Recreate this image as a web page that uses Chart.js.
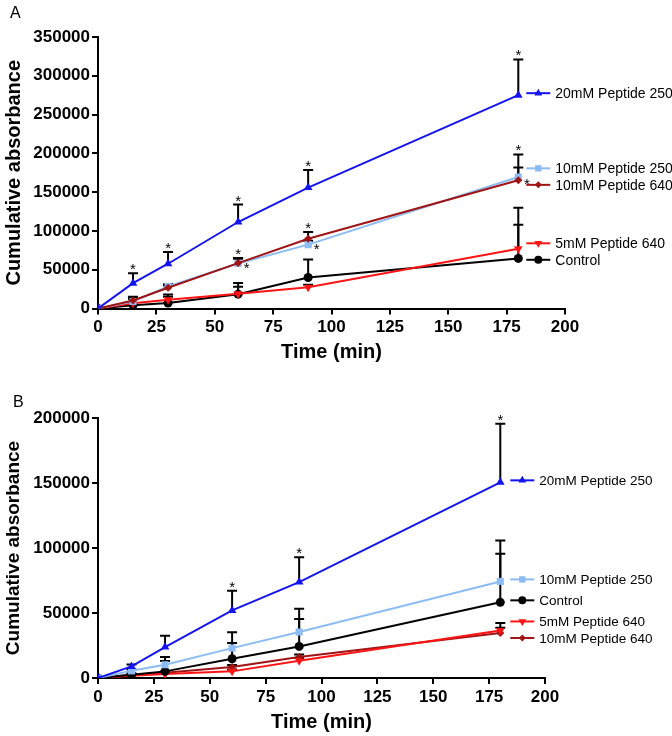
<!DOCTYPE html>
<html>
<head>
<meta charset="utf-8">
<script src="https://cdn.jsdelivr.net/npm/chart.js@4.4.0/dist/chart.umd.min.js"></script>
<style>
  body { margin: 0; background: #fff; }
  .panel { position: absolute; left: 0; width: 672px; height: 368px; }
</style>
</head>
<body>
<div class="panel" style="top:0"><canvas id="chartA" width="672" height="368"></canvas></div>
<div class="panel" style="top:368px"><canvas id="chartB" width="672" height="368"></canvas></div>
<script>
// time points (min)
const times = [0, 15, 30, 60, 90, 180];

// panel A - means and upper error (SEM)
const a_20mM250 = [0, 32700, 57700, 111500, 155900, 275000];
const a_20mM250_err = [0, 12900, 15000, 22500, 22700, 46000];
const a_10mM640 = [0, 10300, 26700, 58500, 90000, 165300];
const a_10mM640_err = [0, 5000, 3000, 6500, 8600, 16400];
const a_10mM250 = [0, 9000, 28400, 58000, 82300, 169600];
const a_10mM250_err = [0, 4000, 3000, 6000, 5000, 29000];
const a_5mM640 = [0, 6800, 11200, 19000, 27500, 77100];
const a_5mM640_err = [0, 6000, 7000, 9000, 3000, 31000];
const a_control = [0, 4300, 7000, 18500, 40000, 64600];
const a_control_err = [0, 8000, 8000, 14500, 23300, 65400];

// panel B
const b_20mM250 = [0, 8900, 23800, 52000, 73800, 150500];
const b_20mM250_err = [0, 1500, 8700, 15200, 19000, 45100];
const b_10mM250 = [0, 5500, 10200, 23000, 35400, 74300];
const b_10mM250_err = [0, 1000, 5900, 12100, 17900, 31500];
const b_control = [0, 2500, 5100, 14800, 24300, 58200];
const b_control_err = [0, 1000, 8000, 12100, 21100, 37400];
const b_5mM640 = [0, 1800, 3000, 5100, 13300, 36600];
const b_5mM640_err = [0, 500, 1000, 1500, 2000, 5700];
const b_10mM640 = [0, 2500, 4000, 8500, 16100, 34600];
const b_10mM640_err = [0, 500, 1000, 1500, 2000, 4000];

// significance stars (time points), above the error bar or right of the point
const a_starsAbove = { '20mM Peptide 250': [15, 30, 60, 90, 180], '10mM Peptide 640': [60, 90], '10mM Peptide 250': [180] };
const a_starsRight = { '10mM Peptide 250': [60, 90], '10mM Peptide 640': [180] };
const b_starsAbove = { '20mM Peptide 250': [60, 90, 180] };
const b_starsRight = {};

const yTicksA = [0, 350000, 50000];
const yTicksB = [0, 200000, 50000];

Chart.defaults.font.family = "'Liberation Sans', Arial, sans-serif";
Chart.defaults.color = '#000';

const styles = {
  '20mM Peptide 250': { color: '#1414f0', pointStyle: 'triangle', radius: 5, rotation: 0 },
  '10mM Peptide 250': { color: '#8cbcf2', pointStyle: 'rect', radius: 5, rotation: 0 },
  '10mM Peptide 640': { color: '#a01414', pointStyle: 'rectRot', radius: 4, rotation: 0 },
  '5mM Peptide 640': { color: '#ff1414', pointStyle: 'triangle', radius: 5, rotation: 180 },
  'Control': { color: '#000000', pointStyle: 'circle', radius: 4.5, rotation: 0 }
};

function makeSet(label, values, err) {
  const s = styles[label];
  return {
    label: label,
    data: values.map((v, i) => ({ x: times[i], y: v })),
    err: err,
    borderColor: s.color,
    backgroundColor: s.color,
    borderWidth: 2,
    pointStyle: s.pointStyle,
    pointRadius: s.radius,
    pointRotation: s.rotation,
    pointBorderWidth: 0,
    tension: 0
  };
}

// error bars, upper half only, drawn behind the lines
const errorBars = {
  id: 'errorBars',
  beforeDatasetsDraw(chart) {
    const ctx = chart.ctx, xs = chart.scales.x, ys = chart.scales.y;
    ctx.save();
    ctx.strokeStyle = '#000';
    ctx.lineWidth = 2;
    chart.data.datasets.forEach(ds => {
      ds.data.forEach((p, i) => {
        const e = ds.err[i];
        if (!e) return;
        const x = xs.getPixelForValue(p.x);
        const y0 = ys.getPixelForValue(p.y);
        const y1 = ys.getPixelForValue(p.y + e);
        ctx.beginPath();
        ctx.moveTo(x, y0); ctx.lineTo(x, y1);
        ctx.moveTo(x - 5, y1); ctx.lineTo(x + 5, y1);
        ctx.stroke();
      });
    });
    ctx.restore();
  }
};

// stars, inline legend and panel letter
const extras = {
  id: 'extras',
  afterDatasetsDraw(chart, args, opts) {
    const ctx = chart.ctx, xs = chart.scales.x, ys = chart.scales.y;
    ctx.save();
    ctx.fillStyle = '#000';
    ctx.font = "15px 'Liberation Sans', Arial, sans-serif";
    ctx.textAlign = 'center';
    ctx.textBaseline = 'alphabetic';
    chart.data.datasets.forEach(ds => {
      (opts.above[ds.label] || []).forEach(t => {
        const i = times.indexOf(t);
        const top = ds.data[i].y + (ds.err[i] || 0);
        ctx.fillText('*', xs.getPixelForValue(t), ys.getPixelForValue(top) + 1);
      });
      (opts.right[ds.label] || []).forEach(t => {
        const i = times.indexOf(t);
        ctx.fillText('*', xs.getPixelForValue(t) + 8.5, ys.getPixelForValue(ds.data[i].y) + 9);
      });
    });

    // legend next to the last points, pushed apart where they collide
    const last = times.length - 1;
    const items = chart.data.datasets.map(ds => ({ ds: ds, y: ys.getPixelForValue(ds.data[last].y) }));
    items.sort((a, b) => a.y - b.y);
    const gap = 16.5;
    for (let k = 0; k < 50; k++) {
      for (let i = 1; i < items.length; i++) {
        const d = gap - (items[i].y - items[i - 1].y);
        if (d > 0) { items[i - 1].y -= d / 2; items[i].y += d / 2; }
      }
    }
    const x0 = xs.getPixelForValue(times[last]) + opts.legendOffset;
    ctx.font = opts.legendFont + "px 'Liberation Sans', Arial, sans-serif";
    ctx.textAlign = 'left';
    ctx.textBaseline = 'middle';
    items.forEach(it => {
      const s = styles[it.ds.label];
      const y = it.y + opts.legendShift;
      ctx.strokeStyle = s.color;
      ctx.lineWidth = 2;
      ctx.beginPath(); ctx.moveTo(x0, y); ctx.lineTo(x0 + 24, y); ctx.stroke();
      ctx.fillStyle = s.color;
      Chart.helpers.drawPoint(ctx, { pointStyle: s.pointStyle, radius: s.radius - 0.5, rotation: s.rotation, borderWidth: 0 }, x0 + 12, y);
      ctx.fillStyle = '#000';
      ctx.fillText(it.ds.label, x0 + 29, y + 1);
    });

    ctx.font = "16px 'Liberation Sans', Arial, sans-serif";
    ctx.textAlign = 'left';
    ctx.textBaseline = 'alphabetic';
    ctx.fillText(opts.letter, opts.letterX, opts.letterY);
    ctx.restore();
  }
};

function makeChart(id, datasets, yt, cfg) {
  return new Chart(document.getElementById(id), {
    type: 'line',
    data: { datasets: datasets },
    options: {
      responsive: false,
      animation: false,
      devicePixelRatio: 1,
      layout: { padding: cfg.padding },
      plugins: {
        legend: { display: false },
        tooltip: { enabled: false },
        extras: cfg.extras
      },
      scales: {
        x: {
          type: 'linear', min: 0, max: 200,
          afterFit: s => { s.height = cfg.xHeight; },
          ticks: { stepSize: 25, padding: 3, font: { size: 17, weight: 'bold' }, callback: v => String(v) },
          grid: { drawOnChartArea: false, drawTicks: true, tickLength: 6, color: '#000', lineWidth: 2 },
          border: { display: true, color: '#000', width: 2 },
          title: { display: true, text: 'Time (min)', font: { size: 20, weight: 'bold' }, padding: { top: 0, bottom: 0 } }
        },
        y: {
          min: yt[0], max: yt[1],
          afterFit: s => { s.width = 98; },
          ticks: { stepSize: yt[2], padding: 2, font: { size: 17, weight: 'bold' }, callback: v => String(v) },
          grid: { drawOnChartArea: false, drawTicks: true, tickLength: 6, color: '#000', lineWidth: 2 },
          border: { display: true, color: '#000', width: 2 },
          title: { display: true, text: 'Cumulative absorbance', font: { size: cfg.yTitleSize, weight: 'bold' }, padding: { top: 2, bottom: 0 } }
        }
      }
    },
    plugins: [errorBars, extras]
  });
}

makeChart('chartA', [
  makeSet('20mM Peptide 250', a_20mM250, a_20mM250_err),
  makeSet('10mM Peptide 640', a_10mM640, a_10mM640_err),
  makeSet('10mM Peptide 250', a_10mM250, a_10mM250_err),
  makeSet('5mM Peptide 640', a_5mM640, a_5mM640_err),
  makeSet('Control', a_control, a_control_err)
], yTicksA, {
  padding: { left: 0, right: 107, top: 37, bottom: 4 },
  xHeight: 55.5,
  yTitleSize: 20,
  extras: { above: a_starsAbove, right: a_starsRight, legendOffset: 8, legendFont: 14, legendShift: -2, letter: 'A', letterX: 10, letterY: 18 }
});

makeChart('chartB', [
  makeSet('20mM Peptide 250', b_20mM250, b_20mM250_err),
  makeSet('10mM Peptide 250', b_10mM250, b_10mM250_err),
  makeSet('Control', b_control, b_control_err),
  makeSet('5mM Peptide 640', b_5mM640, b_5mM640_err),
  makeSet('10mM Peptide 640', b_10mM640, b_10mM640_err)
], yTicksB, {
  padding: { left: 0, right: 127, top: 50, bottom: 2 },
  xHeight: 56,
  yTitleSize: 19,
  extras: { above: b_starsAbove, right: b_starsRight, legendOffset: 10, legendFont: 13.5, legendShift: -2, letter: 'B', letterX: 13, letterY: 39 }
});
</script>
</body>
</html>
